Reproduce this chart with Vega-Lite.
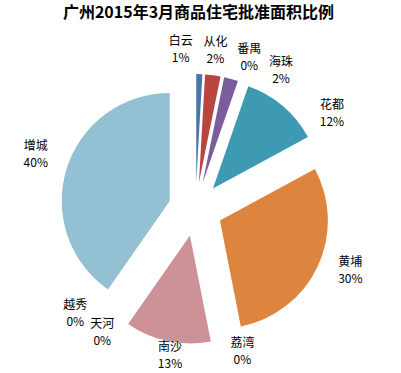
{
  "$schema": "https://vega.github.io/schema/vega-lite/v6.json",
  "width": 391,
  "height": 328,
  "autosize": {"type": "none"},
  "padding": {"left": 0, "top": 45, "right": 10, "bottom": 0},
  "background": "white",
  "config": {"view": {"stroke": null}},
  "title": {
    "text": "广州2015年3月商品住宅批准面积比例",
    "font": "Noto Sans CJK SC",
    "fontSize": 16,
    "fontWeight": "bold",
    "color": "#000000",
    "frame": "group",
    "anchor": "middle",
    "baseline": "bottom",
    "offset": -2,
    "dx": 3
  },
  "data": {
    "values": [
      {"name": "白云", "share": 0.009},
      {"name": "从化", "share": 0.023},
      {"name": "番禺", "share": 0},
      {"name": "海珠", "share": 0.021},
      {"name": "花都", "share": 0.118},
      {"name": "黄埔", "share": 0.298},
      {"name": "荔湾", "share": 0},
      {"name": "南沙", "share": 0.128},
      {"name": "天河", "share": 0},
      {"name": "越秀", "share": 0},
      {"name": "增城", "share": 0.403}
    ]
  },
  "transform": [
    {"calculate": "max(datum.share, 0.04)", "as": "lw"},
    {"window": [{"op": "sum", "field": "share", "as": "cumEnd"}, {"op": "sum", "field": "lw", "as": "lcum"}], "frame": [null, 0]},
    {"joinaggregate": [{"op": "sum", "field": "lw", "as": "ltot"}]},
    {"calculate": "datum.cumEnd - datum.share", "as": "cumStart"},
    {"calculate": "PI * (datum.cumStart + datum.cumEnd)", "as": "mid"},
    {"calculate": "27 * sin(datum.mid)", "as": "ex"},
    {"calculate": "-27 * cos(datum.mid)", "as": "ey"},
    {"calculate": "2 * PI * (datum.lcum - datum.lw / 2) / datum.ltot - 0.19", "as": "la"},
    {"calculate": "170 * sin(datum.la)", "as": "lx"},
    {"calculate": "-cos(datum.la) * (cos(datum.la) > 0 ? 160 : 148)", "as": "ly"},
    {"calculate": "datum.name + '\\n' + format(datum.share, '.0%')", "as": "label"}
  ],
  "layer": [
    {
      "mark": {"type": "arc", "outerRadius": 108},
      "encoding": {
        "theta": {"field": "cumStart", "type": "quantitative", "stack": null, "scale": {"domain": [0, 1], "range": [0, 6.283185307]}},
        "theta2": {"field": "cumEnd"},
        "color": {
          "field": "name",
          "type": "nominal",
          "legend": null,
          "scale": {
            "domain": ["白云", "从化", "番禺", "海珠", "花都", "黄埔", "荔湾", "南沙", "天河", "越秀", "增城"],
            "range": ["#4a74aa", "#b8463f", "#98b954", "#7a5d9a", "#3d9ab2", "#dd843e", "#2c4d75", "#cc9297", "#5f7530", "#4d3b62", "#93c1d3"]
          }
        },
        "xOffset": {"field": "ex", "type": "quantitative", "scale": null},
        "yOffset": {"field": "ey", "type": "quantitative", "scale": null}
      }
    },
    {
      "mark": {"type": "text", "lineBreak": "\n", "lineHeight": 17, "dy": -8.5, "font": "Noto Sans CJK SC", "fontSize": 12, "color": "#000000", "align": "center", "baseline": "middle"},
      "encoding": {
        "text": {"field": "label", "type": "nominal"},
        "xOffset": {"field": "lx", "type": "quantitative", "scale": null},
        "yOffset": {"field": "ly", "type": "quantitative", "scale": null}
      }
    }
  ]
}
